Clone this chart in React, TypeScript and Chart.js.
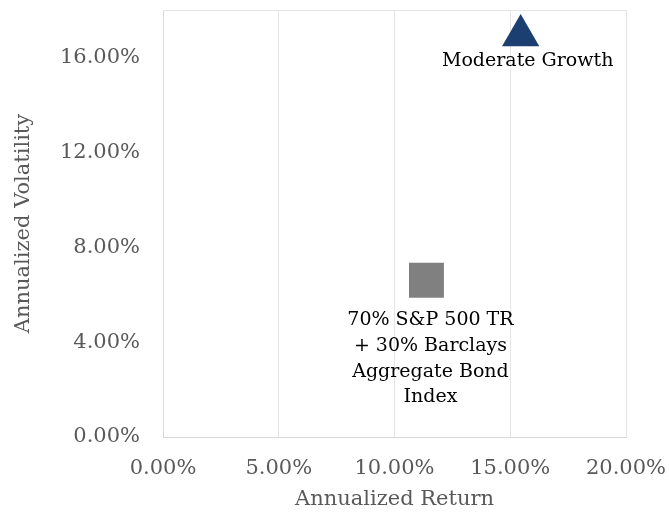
import React, { useEffect, useRef } from "react";
import { Chart, registerables } from "chart.js";

Chart.register(...registerables);

const seriesNames = [
  ["70% S&P 500 TR", "+ 30% Barclays", "Aggregate Bond", "Index"],
  ["Moderate Growth"],
];
const returnValues = [0.1138, 0.1545];
const volatilityValues = [0.0661, 0.1693];
const xTicks = [0, 0.05, 0.1, 0.15, 0.2];
const yTicks = [0, 0.04, 0.08, 0.12, 0.16];
const xAxisTitle = "Annualized Return";
const yAxisTitle = "Annualized Volatility";

const FONT = "'DejaVu Serif', serif";
const fmt = (v: number) => (v * 100).toFixed(2) + "%";

const labelPlugin = {
  id: "pointLabels",
  afterDatasetsDraw(chart: any) {
    const ctx = chart.ctx;
    const { left, right, top } = chart.chartArea;
    ctx.save();
    ctx.strokeStyle = "#e6e6e6";
    ctx.lineWidth = 1;
    ctx.beginPath();
    ctx.moveTo(left, top + 0.5);
    ctx.lineTo(right, top + 0.5);
    ctx.stroke();
    ctx.fillStyle = "#000000";
    ctx.font = `19px ${FONT}`;
    ctx.textAlign = "center";
    ctx.textBaseline = "middle";
    const offsets = [
      { dx: 4, dy: 40 },
      { dx: 7, dy: 26 },
    ];
    chart.data.datasets.forEach((ds: any, i: number) => {
      const meta = chart.getDatasetMeta(i);
      const pt = meta.data[0];
      const lines = seriesNames[i];
      lines.forEach((ln, j) => {
        ctx.fillText(ln, pt.x + offsets[i].dx, pt.y + offsets[i].dy + j * 25.7);
      });
    });
    ctx.restore();
  },
};

const zeroPad = (s: any) => {
  s.paddingTop = 0;
  s.paddingBottom = 0;
  s.paddingLeft = 0;
  s.paddingRight = 0;
};

export default function App() {
  const ref = useRef<HTMLCanvasElement | null>(null);
  useEffect(() => {
    if (!ref.current) return;
    const chart = new Chart(ref.current, {
      type: "scatter",
      data: {
        datasets: [
          {
            label: seriesNames[0].join(" "),
            data: [{ x: returnValues[0], y: volatilityValues[0] }],
            pointStyle: "rect",
            pointRadius: 24.7,
            backgroundColor: "#808080",
            borderColor: "#808080",
            borderWidth: 0,
          },
          {
            label: seriesNames[1].join(" "),
            data: [{ x: returnValues[1], y: volatilityValues[1] }],
            pointStyle: "triangle",
            pointRadius: 21.5,
            backgroundColor: "#1c3f71",
            borderColor: "#1c3f71",
            borderWidth: 0,
          },
        ],
      },
      options: {
        responsive: false,
        animation: false,
        layout: { autoPadding: false, padding: { left: 0, top: 10, right: 43, bottom: 0 } },
        plugins: {
          legend: { display: false },
          tooltip: { enabled: false },
        },
        scales: {
          x: {
            type: "linear",
            min: 0,
            max: 0.2,
            afterBuildTicks: (s: any) => {
              s.ticks = xTicks.map((v) => ({ value: v }));
            },
            afterFit: (s: any) => {
              s.height = 75;
              zeroPad(s);
            },
            ticks: {
              callback: (v: any) => fmt(Number(v)),
              color: "#595959",
              font: { family: FONT, size: 21 },
              padding: 19,
              maxRotation: 0,
            },
            grid: { color: "#e6e6e6", drawTicks: false, lineWidth: 1 },
            border: { display: true, color: "#d9d9d9" },
            title: {
              display: true,
              text: xAxisTitle,
              color: "#595959",
              font: { family: FONT, size: 21 },
              padding: { top: 0, bottom: 0 },
            },
          },
          y: {
            type: "linear",
            min: 0,
            max: 0.18,
            afterBuildTicks: (s: any) => {
              s.ticks = yTicks.map((v) => ({ value: v }));
            },
            afterFit: (s: any) => {
              s.width = 163;
              zeroPad(s);
            },
            ticks: {
              callback: (v: any) => fmt(Number(v)),
              color: "#595959",
              font: { family: FONT, size: 21 },
              padding: 23,
            },
            grid: { display: false, drawTicks: false },
            border: { display: true, color: "#d9d9d9" },
            title: {
              display: true,
              text: yAxisTitle,
              color: "#595959",
              font: { family: FONT, size: 21 },
              padding: { top: 11, bottom: 0 },
            },
          },
        },
      },
      plugins: [labelPlugin],
    });
    return () => chart.destroy();
  }, []);
  return (
    <canvas
      ref={ref}
      width={669}
      height={512}
      style={{ position: "absolute", left: 0, top: 0, display: "block" }}
    />
  );
}
